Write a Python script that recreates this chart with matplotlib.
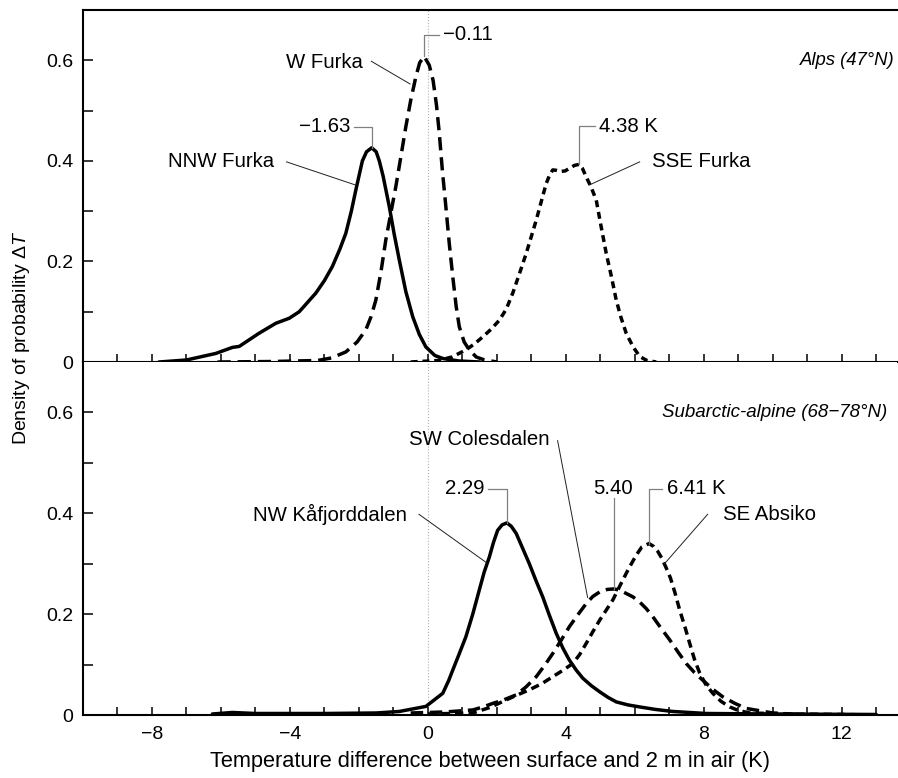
import numpy as np
import matplotlib.pyplot as plt

plt.rcParams['font.family'] = ['Liberation Sans', 'DejaVu Sans']
plt.rcParams['mathtext.fontset'] = 'custom'
plt.rcParams['mathtext.rm'] = 'Liberation Sans'
plt.rcParams['mathtext.it'] = 'Liberation Sans:italic'

# Alps (Furka) density curves, temperature difference in K
nnw_x = [-7.8, -7.0, -6.15, -5.67, -5.47, -4.9, -4.41, -4.02, -3.73, -3.25, -3.0, -2.77,
         -2.55, -2.38, -2.22, -2.09, -1.90, -1.78, -1.63, -1.50, -1.41, -1.30, -1.12,
         -0.98, -0.83, -0.64, -0.44, -0.25, -0.06, 0.2, 0.43, 0.9, 1.5]
nnw_y = [0.0, 0.004, 0.017, 0.029, 0.031, 0.057, 0.077, 0.087, 0.100, 0.137, 0.162, 0.19,
         0.225, 0.256, 0.30, 0.342, 0.40, 0.418, 0.426, 0.418, 0.40, 0.37, 0.309,
         0.255, 0.203, 0.14, 0.09, 0.055, 0.030, 0.013, 0.007, 0.002, 0.0]

w_x = [-6.1, -4.5, -3.2, -2.8, -2.38, -2.05, -1.80, -1.65, -1.51, -1.36, -1.22, -1.07,
       -0.93, -0.78, -0.64, -0.50, -0.35, -0.24, -0.11, 0.04, 0.15, 0.25, 0.33, 0.42,
       0.52, 0.62, 0.72, 0.82, 0.91, 1.05, 1.2, 1.4, 1.6, 2.0]
w_y = [0.0, 0.001, 0.003, 0.008, 0.02, 0.04, 0.064, 0.09, 0.123, 0.18, 0.243, 0.298,
       0.349, 0.41, 0.468, 0.52, 0.567, 0.595, 0.608, 0.59, 0.56, 0.51, 0.455, 0.38,
       0.309, 0.235, 0.17, 0.11, 0.07, 0.04, 0.024, 0.01, 0.005, 0.0]

sse_x = [-0.5, 0.3, 0.7, 1.1, 1.35, 1.59, 1.83, 2.07, 2.27, 2.46, 2.65, 2.85, 3.0, 3.14,
         3.29, 3.43, 3.53, 3.62, 3.74, 3.86, 3.98, 4.10, 4.25, 4.38, 4.48, 4.59, 4.73,
         4.88, 5.02, 5.17, 5.32, 5.46, 5.60, 5.75, 5.95, 6.14, 6.35, 6.62]
sse_y = [0.0, 0.003, 0.01, 0.024, 0.036, 0.05, 0.065, 0.083, 0.105, 0.137, 0.175, 0.216, 0.25, 0.282,
         0.32, 0.355, 0.372, 0.382, 0.381, 0.379, 0.380, 0.385, 0.391, 0.393, 0.385, 0.368, 0.348,
         0.322, 0.27, 0.216, 0.17, 0.123, 0.088, 0.057, 0.03, 0.011, 0.003, 0.0]

# Subarctic-alpine density curves
nwk_x = [-6.25, -5.67, -5.0, -3.0, -1.5, -0.83, -0.06, 0.43, 0.6, 0.72, 0.9, 1.1, 1.3,
         1.49, 1.63, 1.78, 1.9, 2.02, 2.15, 2.29, 2.42, 2.56, 2.75, 2.94, 3.13, 3.33,
         3.52, 3.72, 3.91, 4.10, 4.3, 4.49, 4.74, 4.98, 5.22, 5.46, 5.8, 6.14, 6.6, 7.1,
         8.07, 10.0, 13.0]
nwk_y = [0.002, 0.005, 0.003, 0.003, 0.004, 0.007, 0.017, 0.043, 0.068, 0.089, 0.12, 0.155, 0.2,
         0.248, 0.283, 0.313, 0.342, 0.366, 0.377, 0.381, 0.374, 0.36, 0.33, 0.30, 0.267, 0.234,
         0.198, 0.162, 0.133, 0.109, 0.089, 0.073, 0.058, 0.046, 0.035, 0.026, 0.02, 0.016, 0.011, 0.007,
         0.003, 0.002, 0.001]

swc_x = [-0.5, 0.5, 1.30, 1.6, 1.88, 2.2, 2.56, 2.85, 3.14, 3.38, 3.62, 3.86, 4.10, 4.35,
         4.59, 4.78, 4.98, 5.2, 5.40, 5.58, 5.75, 5.95, 6.14, 6.33, 6.52, 6.76, 7.01, 7.25,
         7.49, 7.73, 7.97, 8.26, 8.55, 8.9, 9.23, 10.0, 10.8]
swc_y = [0.004, 0.006, 0.01, 0.016, 0.023, 0.03, 0.04, 0.056, 0.076, 0.098, 0.122, 0.148, 0.175, 0.199,
         0.221, 0.235, 0.244, 0.249, 0.250, 0.247, 0.241, 0.234, 0.224, 0.211, 0.195, 0.172, 0.149, 0.125,
         0.102, 0.084, 0.069, 0.051, 0.036, 0.023, 0.013, 0.004, 0.001]

sea_x = [0.0, 1.3, 1.8, 2.27, 2.6, 2.94, 3.3, 3.62, 3.9, 4.2, 4.4, 4.59, 4.78, 4.98, 5.17,
         5.36, 5.55, 5.75, 5.9, 6.04, 6.2, 6.41, 6.55, 6.66, 6.78, 6.9, 7.03, 7.16, 7.30,
         7.45, 7.59, 7.73, 7.88, 8.06, 8.26, 8.5, 8.75, 9.0, 9.33, 10.5, 12.0, 13.0]
sea_y = [0.002, 0.004, 0.015, 0.03, 0.04, 0.05, 0.062, 0.076, 0.088, 0.102, 0.12, 0.142, 0.165, 0.188, 0.208,
         0.228, 0.254, 0.281, 0.30, 0.317, 0.333, 0.340, 0.334, 0.325, 0.311, 0.293, 0.272, 0.243, 0.208,
         0.175, 0.142, 0.11, 0.083, 0.06, 0.043, 0.027, 0.016, 0.009, 0.004, 0.002, 0.001, 0.0]

fig = plt.figure(figsize=(8.98, 7.78), dpi=100)
left, right = 83 / 898, 897 / 898
ax1 = fig.add_axes([left, 1 - 362 / 778, right - left, (362 - 10) / 778])
ax2 = fig.add_axes([left, 1 - 715 / 778, right - left, (715 - 362) / 778])

lw = 2.5
ax1.plot(nnw_x, nnw_y, color='black', lw=lw, solid_capstyle='round', solid_joinstyle='round')
ax1.plot(w_x, w_y, color='black', lw=lw, linestyle=(0, (3.8, 2.0)))
ax1.plot(sse_x, sse_y, color='black', lw=lw, linestyle=(0, (2.0, 1.4)))

ax2.plot(nwk_x, nwk_y, color='black', lw=lw, solid_capstyle='round', solid_joinstyle='round')
ax2.plot(swc_x, swc_y, color='black', lw=lw, linestyle=(0, (3.6, 1.9)))
ax2.plot(sea_x, sea_y, color='black', lw=lw, linestyle=(0, (2.4, 1.5)))

for ax in (ax1, ax2):
    ax.set_xlim(-10, 13.6)
    ax.set_ylim(0, 0.70)
    ax.axvline(0, color='#b0b0b0', lw=0.8, ls=':', zorder=0)
    ax.spines['right'].set_visible(False)
    for s in ('left', 'top', 'bottom'):
        ax.spines[s].set_linewidth(1.5)
    ax.set_xticks([-8, -4, 0, 4, 8, 12])
    ax.set_xticks(np.arange(-9, 14, 1), minor=True)
    ax.set_yticks([0, 0.2, 0.4, 0.6])
    ax.set_yticks([0.1, 0.3, 0.5], minor=True)
    ax.set_yticklabels(['0', '0.2', '0.4', '0.6'])
    ax.tick_params(axis='x', which='both', direction='in', length=6, width=1.1, pad=8,
                   labelsize=14)
    ax.tick_params(axis='y', which='both', direction='in', length=7.5, width=1.1, pad=7,
                   labelsize=14)

ax1.tick_params(axis='x', labelbottom=False)
ax2.spines['top'].set_visible(False)

ann = dict(fontsize=14.7, va='center')
grey = '#808080'

def peak_tag(ax, xp, yp, text, xt, yt, ha):
    # bracket-shaped leader from the peak up to the value label
    ax.plot([xp, xp, xt], [yp, yt, yt], color=grey, lw=0.9)
    ax.text(xt + (0.12 if ha == 'left' else -0.12), yt, text, ha=ha, **ann)

def name_tag(ax, text, xt, yt, x0, y0, x1, y1, ha):
    ax.plot([x0, x1], [y0, y1], color='#202020', lw=0.7)
    ax.text(xt, yt, text, ha=ha, **ann)

# top panel labels
peak_tag(ax1, -1.63, 0.426, '\u22121.63', -2.14, 0.468, 'right')
peak_tag(ax1, -0.11, 0.608, '\u22120.11', 0.32, 0.651, 'left')
peak_tag(ax1, 4.38, 0.393, '4.38 K', 4.85, 0.469, 'left')
name_tag(ax1, 'W Furka', -1.9, 0.596, -1.64, 0.598, -0.52, 0.553, 'right')
name_tag(ax1, 'NNW Furka', -4.46, 0.398, -4.1, 0.398, -2.1, 0.352, 'right')
name_tag(ax1, 'SSE Furka', 6.49, 0.398, 6.14, 0.398, 4.68, 0.352, 'left')
ax1.text(13.53, 0.600, 'Alps (47°N)', ha='right', va='center', fontsize=13.3, style='italic')

# bottom panel labels
peak_tag(ax2, 2.29, 0.381, '2.29', 1.75, 0.449, 'right')
ax2.plot([5.40, 5.40], [0.250, 0.430], color=grey, lw=0.9)
ax2.text(5.36, 0.449, '5.40', ha='center', **ann)
peak_tag(ax2, 6.41, 0.340, '6.41 K', 6.8, 0.449, 'left')
name_tag(ax2, 'SW Colesdalen', 3.52, 0.546, 3.76, 0.544, 4.63, 0.233, 'right')
name_tag(ax2, 'NW Kåfjorddalen', -0.6, 0.398, -0.26, 0.398, 1.70, 0.302, 'right')
name_tag(ax2, 'SE Absiko', 8.55, 0.398, 8.11, 0.398, 6.86, 0.300, 'left')
ax2.text(13.33, 0.599, 'Subarctic-alpine (68\u221278°N)', ha='right', va='center', fontsize=13.5,
         style='italic')

ax2.set_xlabel('Temperature difference between surface and 2 m in air (K)', fontsize=15.7,
               labelpad=6)
fig.text(0.024, 1 - 338 / 778, 'Density of probability Δ$\\mathit{T}$', rotation=90,
         ha='center', va='center', fontsize=14)

fig.savefig('out.png', dpi=100)
